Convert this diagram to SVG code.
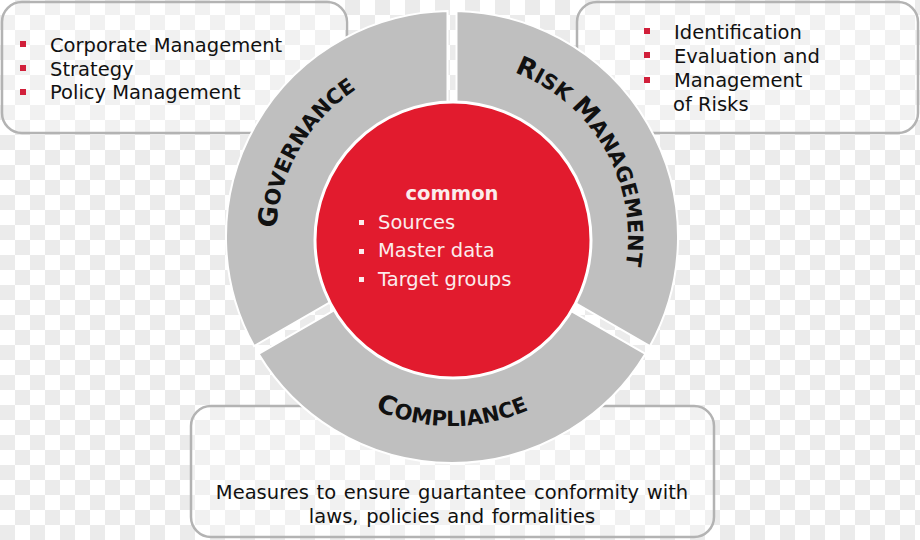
<svg xmlns="http://www.w3.org/2000/svg" width="920" height="540" viewBox="0 0 920 540">
<defs>
<pattern id="checker" x="0" y="0" width="30" height="30" patternUnits="userSpaceOnUse">
<rect width="30" height="30" fill="#ffffff"/>
<rect x="15" y="0" width="15" height="15" fill="#ebebeb"/>
<rect x="0" y="15" width="15" height="15" fill="#ebebeb"/>
</pattern>
<path id="arcGov" d="M299.6,325 A176,176 0 0 1 452,61"/>
<path id="arcRisk" d="M452,61 A176,176 0 0 1 604.4,325"/>
<path id="arcComp" d="M288.3,331.5 A189,189 0 0 0 615.7,331.5"/>
</defs>
<style>
.box{fill:#ffffff;fill-opacity:0.3;stroke:#b3b3b3;stroke-width:2.5}
.txt{font-family:"DejaVu Sans",Verdana,sans-serif;font-size:19.5px;fill:#111111}
.ctxt{font-family:"DejaVu Sans",Verdana,sans-serif;font-size:19.5px;fill:#fbecec}
.seg{fill:#bfbfbf;stroke:#ffffff;stroke-width:2}
.lbl{font-family:"DejaVu Sans",Verdana,sans-serif;font-weight:bold;font-size:21px;fill:#111111}
.big{font-size:26px}
.rb{fill:#d11f3a}
.wb{fill:#fbecec}
</style>
<rect width="920" height="540" fill="url(#checker)"/>

<g id="box-governance">
<rect class="box" x="2" y="2" width="345" height="131" rx="20"/>
<rect class="rb" x="20" y="41" width="6" height="6"/>
<rect class="rb" x="20" y="65" width="6" height="6"/>
<rect class="rb" x="20" y="89" width="6" height="6"/>
<text class="txt" x="50" y="52">Corporate Management</text>
<text class="txt" x="50" y="75.5">Strategy</text>
<text class="txt" x="50" y="99">Policy Management</text>
</g>

<g id="box-risk">
<rect class="box" x="577" y="2" width="341" height="131" rx="20"/>
<rect class="rb" x="644" y="28" width="6" height="6"/>
<rect class="rb" x="644" y="52" width="6" height="6"/>
<rect class="rb" x="644" y="77" width="6" height="6"/>
<text class="txt" x="674" y="39">Identification</text>
<text class="txt" x="674" y="63">Evaluation and</text>
<text class="txt" x="674" y="87">Management</text>
<text class="txt" x="673" y="111">of Risks</text>
</g>

<g id="box-compliance">
<rect class="box" x="191" y="406" width="523" height="131" rx="20"/>
<text class="txt" x="452" y="499" text-anchor="middle" word-spacing="1.5">Measures to ensure guartantee conformity with</text>
<text class="txt" x="452" y="523" text-anchor="middle" word-spacing="1.5">laws, policies and formalities</text>
</g>

<g id="governance">
<path class="seg" d="M254.06,346.08 A226,226 0 0 1 447.5,11.04 L447.5,107.08 A130,130 0 0 0 337.23,298.06 Z"/>
<text class="lbl"><textPath href="#arcGov" startOffset="50%" text-anchor="middle"><tspan class="big">G</tspan>OVERNANCE</textPath></text>
</g>

<g id="risk-management">
<path class="seg" d="M456.5,11.04 A226,226 0 0 1 649.94,346.08 L566.77,298.06 A130,130 0 0 0 456.5,107.08 Z"/>
<text class="lbl"><textPath href="#arcRisk" startOffset="50%" text-anchor="middle"><tspan class="big">R</tspan>ISK <tspan class="big">M</tspan>ANAGEMENT</textPath></text>
</g>

<g id="compliance">
<path class="seg" d="M645.43,353.88 A226,226 0 0 1 258.57,353.88 L341.74,305.86 A130,130 0 0 0 562.26,305.86 Z"/>
<text class="lbl"><textPath href="#arcComp" startOffset="50%" text-anchor="middle"><tspan class="big">C</tspan>OMPLIANCE</textPath></text>
</g>

<g id="common">
<circle cx="453" cy="240" r="138" fill="#e21b2e" stroke="#ffffff" stroke-width="3"/>
<text class="ctxt" x="452" y="200" text-anchor="middle" font-weight="bold">common</text>
<rect class="wb" x="359" y="220" width="5" height="5"/>
<rect class="wb" x="359" y="249" width="5" height="5"/>
<rect class="wb" x="359" y="277" width="5" height="5"/>
<text class="ctxt" x="378" y="228.5">Sources</text>
<text class="ctxt" x="378" y="257">Master data</text>
<text class="ctxt" x="378" y="285.5">Target groups</text>
</g>
<g id="connectors"/>
</svg>
